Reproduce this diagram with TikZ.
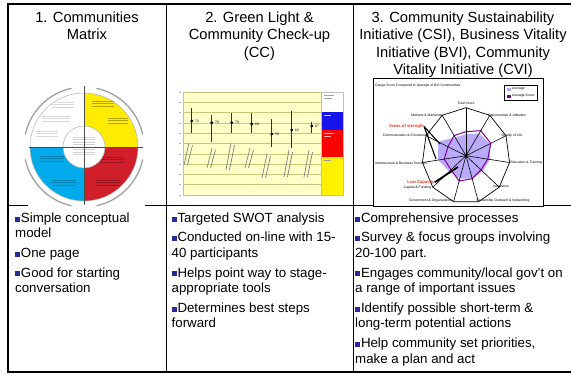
\documentclass[tikz,border=0pt]{standalone}
\usepackage{fontspec}
\setmainfont{Liberation Sans}
\usetikzlibrary{shapes,arrows}

\definecolor{bulletblue}{RGB}{40,40,160}
\definecolor{quadyellow}{RGB}{255,236,0}
\definecolor{quadred}{RGB}{208,30,42}
\definecolor{quadcyan}{RGB}{0,170,235}
\definecolor{paleyellow}{RGB}{255,255,200}
\definecolor{gridolive}{RGB}{200,200,120}
\definecolor{legendblue}{RGB}{20,20,235}
\definecolor{radarfill}{RGB}{185,170,250}
\definecolor{radarline}{RGB}{130,0,150}
\definecolor{labelred}{RGB}{235,50,30}

\newcommand{\sqb}{\textcolor{bulletblue}{\raisebox{0.8pt}{\rule{5pt}{5pt}}}\hspace{0.8pt}}

\begin{document}
\begin{tikzpicture}[x=1pt,y=-1pt,
  head/.style={anchor=north,inner sep=0pt,align=center,font=\fontsize{14.7}{17.4}\selectfont},
  body/.style={anchor=north west,inner sep=0pt,align=left,font=\fontsize{13.3}{15.6}\selectfont},
  tiny/.style={inner sep=0pt,font=\fontsize{3.4}{4}\selectfont},
  redlabel/.style={inner sep=0pt,text=labelred,font=\fontsize{4.2}{5}\selectfont\bfseries},
  frame/.style={line width=2pt},
  rule/.style={line width=0.9pt}]

  \useasboundingbox (0,0) rectangle (571,375);

  % table
  \draw[frame] (572,4) -- (8,4) -- (8,372) -- (572,372);
  \draw[rule] (8,205.5) -- (571,205.5);
  \draw[rule] (166,4) -- (166,372);
  \draw[rule] (353,4) -- (353,372);

  \node (h1) [head] at (87,11.5) {1. Communities\\Matrix};
  \node (h2) [head] at (259.5,11.5) {2. Green Light \&\\Community Check-up\\(CC)};
  \node (h3) [head] at (463,11.5) {3. Community Sustainability\\Initiative (CSI), Business Vitality\\Initiative (BVI), Community\\Vitality Initiative (CVI)};

  \node (b1) [body] at (15,212.5) {\sqb Simple conceptual\\model\\[4pt]\sqb One page\\[4pt]\sqb Good for starting\\conversation};
  \node (b2) [body] at (171.5,212.5) {\sqb Targeted SWOT analysis\\[4pt]\sqb Conducted on-line with 15-\\40 participants\\[4pt]\sqb Helps point way to stage-\\appropriate tools\\[4pt]\sqb Determines best steps\\forward};
  \node (b3) [body] at (355,212.5) {\sqb Comprehensive processes\\[4pt]\sqb Survey \& focus groups involving\\20-100 part.\\[4pt]\sqb Engages community/local gov’t on\\a range of important issues\\[4pt]\sqb Identify possible short-term \&\\long-term potential actions\\[4pt]\sqb Help community set priorities,\\make a plan and act};

  % communities matrix
  \fill[white] (28,84) rectangle (145,209);
  \coordinate (mc) at (84,147);
  \begin{scope}
    \clip (mc) circle[radius=54];
    \fill[quadyellow] (84,93) rectangle (138,147);
    \fill[quadred] (84,147) rectangle (138,201);
    \fill[quadcyan] (30,147) rectangle (84,201);
  \end{scope}
  \draw[gray!60,line width=0.5] (mc) circle[radius=54];
  \foreach \s in {12,102,192,282}
    \draw[gray!75,line width=1.3] (mc) ++(\s:60) arc[start angle=\s,end angle=\s+66,radius=60];
  \foreach \x/\y/\w/\c in {52/102/22/gray!30,42/116/28/gray!30,36/131/22/gray!30,
                           92/101/22/quadyellow!70!black,108/118/20/quadyellow!70!black,
                           100/157/24/quadred!75!black,96/180/24/quadred!75!black,
                           40/156/24/quadcyan!75!black,52/180/24/quadcyan!75!black}
    \foreach \d in {0,2.5,5}
      \draw[\c,line width=0.6] (\x,{\y+\d}) -- ++(\w,0);
  \fill[white] (mc) circle[radius=21];
  \draw[gray!60,line width=0.5] (mc) circle[radius=21];
  \foreach \d in {0,2.5,...,17.5}
    \draw[gray!35,line width=0.6] (73,{137+\d}) -- ++(22,0);
  \draw[black!70,line width=1] (84,86) -- (84,205);
  \draw[black!70,line width=1] (29,147) -- (143,147);

  % community check-up chart
  \fill[paleyellow] (183,92) rectangle (321,195);
  \foreach \g in {0,...,10} {
    \draw[gridolive,line width=0.5] (183,{92+10.3*\g}) -- (321,{92+10.3*\g});
    \draw[gray!60,line width=0.6] (178.5,{92+10.3*\g}) -- (181,{92+10.3*\g});
  }
  \draw[gray!50,line width=0.4] (183,92) -- (183,195);
  \fill[white] (321,92) rectangle (343,112);
  \fill[legendblue] (321,112) rectangle (343,130);
  \fill[red] (321,130) rectangle (343,157);
  \fill[yellow] (321,157) rectangle (343,195);
  \draw[gray!50,line width=0.4] (321,92) rectangle (343,195);
  \draw[gray!70,line width=0.7] (324,95) -- (334,95) (324,98) -- (332,98);
  \draw[white!80!blue,line width=0.6] (324,115) -- (331,115);
  \draw[white!70!red,line width=0.6] (324,133) -- (334,133) (324,136) -- (331,136);
  \draw[gray!80,line width=0.6] (324,160) -- (331,160);
  \foreach \x/\t/\d/\b/\v [count=\i] in {191.7/108/121/133/72, 211.7/115/122.7/142/70,
      231.7/113/122.7/133/70, 251.7/113/124/133/69, 271.7/119/134/147/59,
      291.7/111/130/148/63, 311.7/122/126/133/67} {
    \draw[black!80,line width=0.7] (\x,\t) -- (\x,\b);
    \node (d\i) [circle,fill=black,inner sep=0pt,minimum size=3.2pt] at (\x,\d) {};
    \node (v\i) [tiny,anchor=west] at ([xshift=1.5pt]d\i.east) {\v};
  }
  \foreach \x/\y/\h in {184/143/22, 207/148/20, 226/143/27, 245/148/20,
                        262/154/24, 284/150/27, 304/150/27} {
    \draw[black!50,line width=0.7] ({\x+5},\y) -- (\x,{\y+\h});
    \draw[black!50,line width=0.7] ({\x+8.5},{\y+2}) -- ({\x+3.5},{\y+\h});
  }

  % gauge radar chart
  \node (rbox) [draw,line width=0.6,fill=white,minimum width=170pt,minimum height=128pt,inner sep=0pt] at (458,142) {};
  \node (rtitle) [tiny,anchor=west] at (375,85.5) {Gauge Score Compared to Average of BVI Communities};
  \node (lgd) [draw,line width=0.5,minimum width=33pt,minimum height=15pt,inner sep=0pt] at (520.5,92.5) {};
  \fill[radarfill] (507,87.5) rectangle (511,90.5);
  \node (lg1) [tiny,anchor=west] at (512,89) {Average};
  \fill[radarline] (507,94.5) rectangle (511,97.5);
  \node (lg2) [tiny,anchor=west] at (512,96) {Average Score};

  \coordinate (rc) at (466,155.7);
  \fill[radarfill] (466,{155.7-48*0.45})
    \foreach \k/\v in {1/.55,2/.6,3/.55,4/.5,5/.5,6/.5,7/.5,8/.64,9/.7,10/.45}
      { -- ({466+44*\v*cos(90-\k*32.727)},{155.7-48*\v*sin(90-\k*32.727)}) } -- cycle;
  \draw[radarline,line width=1] (466,{155.7-48*0.5})
    \foreach \k/\v in {1/.62,2/.62,3/.5,4/.45,5/.5,6/.55,7/.45,8/.5,9/.45,10/.5}
      { -- ({466+44*\v*cos(90-\k*32.727)},{155.7-48*\v*sin(90-\k*32.727)}) } -- cycle;
  \draw[line width=0.7] (466,107.7)
    \foreach \k in {1,...,10}
      { -- ({466+44*cos(90-\k*32.727)},{155.7-48*sin(90-\k*32.727)}) } -- cycle;
  \foreach \k in {0,...,10}
    \draw[line width=0.6] (rc) -- ({466+44*cos(90-\k*32.727)},{155.7-48*sin(90-\k*32.727)});
  \fill (rc) circle[radius=1.6];

  \node (ax0) [tiny] at (466,103.5) {Total Score};
  \node (ax1) [tiny] at (507,116) {Opportunities \& Attitudes};
  \node (ax2) [tiny] at (512,136) {Quality of Life};
  \node (ax3) [tiny] at (526,163) {Education \& Training};
  \node (ax4) [tiny] at (501,186.7) {Innovation};
  \node (ax5) [tiny] at (503,200.7) {Leadership Outreach \& Networking};
  \node (ax6) [tiny] at (431,200.7) {Government \& Organizations};
  \node (ax7) [tiny] at (417.5,187.5) {Capital \& Funding};
  \node (ax8) [tiny] at (401,163.3) {Infrastructure \& Business Services};
  \node (ax9) [tiny] at (406,136) {Communication \& Connectivity};
  \node (ax10) [tiny] at (427,115.7) {Markets \& Marketing};
  \node (strength) [redlabel] at (406.5,126.5) {Areas of strength};
  \node (lowcap) [redlabel] at (421,182.3) {Low Capacity};

  \coordinate (s1) at (440,144);
  \coordinate (s2) at (436,159);
  \coordinate (lc1) at (458,167);
  \draw[line width=1.1] (strength.east) -- (s1);
  \draw[line width=1.1] (strength.east) -- (s2);
  \draw[line width=1.8] (lowcap.east) -- (lc1);

\end{tikzpicture}
\end{document}
